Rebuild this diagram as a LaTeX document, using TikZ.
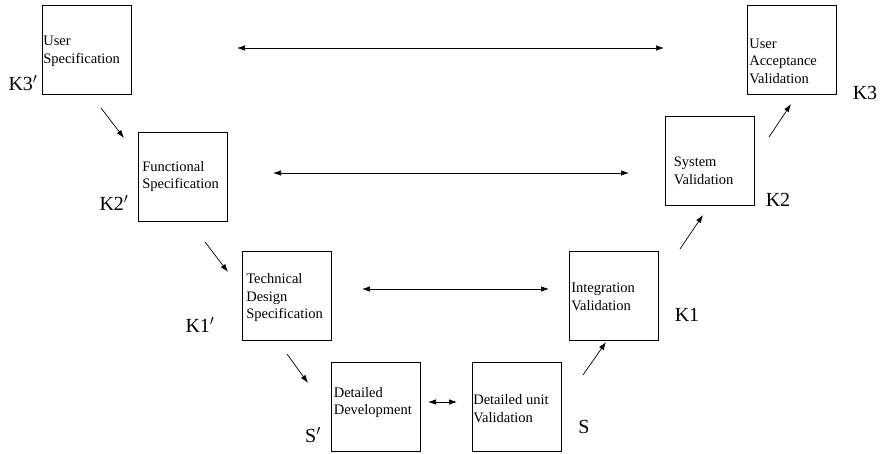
\documentclass[tikz,border=0pt]{standalone}
\usepackage{fontspec}
\setmainfont{Liberation Serif}
\usetikzlibrary{arrows.meta}
\tikzstyle{stage}=[draw, line width=0.8pt, minimum width=89pt, minimum height=89pt, inner sep=0]
\tikzstyle{stage text}=[anchor=west, inner sep=0, align=left, font=\fontsize{14.5}{17.5}\selectfont]
\tikzstyle{level}=[font=\fontsize{20}{24}\selectfont]
\tikzstyle{flow}=[line width=0.7pt, -{Latex[length=8pt,width=5.5pt]}]
\tikzstyle{link}=[line width=0.7pt, {Latex[length=8pt,width=5.5pt]}-{Latex[length=8pt,width=5.5pt]}]

\begin{document}
\begin{tikzpicture}[x=1pt, y=-1pt]
      \useasboundingbox (0, 0) rectangle (884, 454);

      % left branch
      \node[stage] (usr_spec) at (87, 49.5) {};
      \node[stage] (func_spec) at (183, 176.5) {};
      \node[stage] (tech_spec) at (287, 295.5) {};
      \node[stage] (det_dev) at (375.5, 406.5) {};

      % right branch
      \node[stage] (unit_val) at (517, 406.5) {};
      \node[stage] (integ_val) at (614, 295.5) {};
      \node[stage] (sys_val) at (709.5, 161) {};
      \node[stage] (accept_val) at (792, 49.5) {};

      \node[stage text, xshift=1pt, yshift=-2pt] at (usr_spec.west) {User\\Specification};
      \node[stage text, xshift=4pt] at (func_spec.west) {Functional\\Specification};
      \node[stage text, xshift=4pt, yshift=-2.5pt] at (tech_spec.west) {Technical\\Design\\Specification};
      \node[stage text, xshift=3pt, yshift=4pt] at (det_dev.west) {Detailed\\Development};
      \node[stage text, xshift=1pt, yshift=-2pt] at (unit_val.west) {Detailed unit\\Validation};
      \node[stage text, xshift=2pt, yshift=-1.5pt] at (integ_val.west) {Integration\\Validation};
      \node[stage text, xshift=9pt, yshift=-10pt] at (sys_val.west) {System\\Validation};
      \node[stage text, xshift=2pt, yshift=-11.5pt] at (accept_val.west) {User\\Acceptance\\Validation};

      \node[level] (k3_prime) at (23, 83) {K3$'$};
      \node[level] (k2_prime) at (114, 203) {K2$'$};
      \node[level] (k1_prime) at (200, 325) {K1$'$};
      \node[level] (s_prime) at (313, 435) {S$'$};
      \node[level] (s) at (584, 427) {S};
      \node[level] (k1) at (687, 315) {K1};
      \node[level] (k2) at (778, 200) {K2};
      \node[level] (k3) at (865, 93) {K3};

      \coordinate (down1_from) at (101, 108);
      \coordinate (down1_to) at (124, 138);
      \coordinate (down2_from) at (205, 242);
      \coordinate (down2_to) at (228, 272);
      \coordinate (down3_from) at (287, 354);
      \coordinate (down3_to) at (308, 383);
      \coordinate (up1_from) at (583, 375);
      \coordinate (up1_to) at (606, 342);
      \coordinate (up2_from) at (680, 249);
      \coordinate (up2_to) at (703, 215);
      \coordinate (up3_from) at (769, 137);
      \coordinate (up3_to) at (791, 104);
      \draw[flow] (down1_from) to (down1_to);
      \draw[flow] (down2_from) to (down2_to);
      \draw[flow] (down3_from) to (down3_to);
      \draw[flow] (up1_from) to (up1_to);
      \draw[flow] (up2_from) to (up2_to);
      \draw[flow] (up3_from) to (up3_to);

      \coordinate (top_left) at (237, 48);
      \coordinate (top_right) at (664, 48);
      \coordinate (mid_left) at (273, 173);
      \coordinate (mid_right) at (629, 173);
      \coordinate (low_left) at (362, 289);
      \coordinate (low_right) at (549, 289);
      \coordinate (dev_left) at (428, 402);
      \coordinate (dev_right) at (457, 402);
      \draw[link] (top_left) to (top_right);
      \draw[link] (mid_left) to (mid_right);
      \draw[link] (low_left) to (low_right);
      \draw[link] (dev_left) to (dev_right);
    \end{tikzpicture}
\end{document}
